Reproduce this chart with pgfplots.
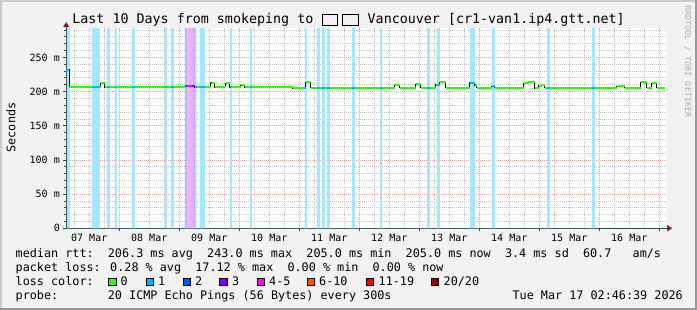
\documentclass[border=0pt]{standalone}
\usepackage{fontspec}
\setmainfont{DejaVu Sans Mono}
\usepackage{pgfplots}
\usepackage{pgfplotstable}
\pgfplotsset{compat=1.18}
\usetikzlibrary{arrows.meta}
\definecolor{bgc}{HTML}{F2F2F2}
\definecolor{shadea}{HTML}{CBCBCB}
\definecolor{shadeb}{HTML}{999999}
\definecolor{gridc}{HTML}{C4C4C4}
\definecolor{mgridc}{HTML}{E6A0A0}
\definecolor{axisc}{HTML}{2C4D43}
\definecolor{arrowc}{HTML}{7F1F1F}
\definecolor{l0}{HTML}{26FF00}
\definecolor{l1}{HTML}{00B8FF}
\definecolor{l2}{HTML}{0059FF}
\definecolor{l3}{HTML}{7E00FF}
\definecolor{l4}{HTML}{FF00FF}
\definecolor{l6}{HTML}{FF5500}
\definecolor{l11}{HTML}{FF0000}
\definecolor{l20}{HTML}{A10000}
\definecolor{b1}{RGB}{166,230,255}
\definecolor{b2}{RGB}{170,190,250}
\definecolor{b3}{RGB}{205,170,250}
\definecolor{b4}{RGB}{250,170,252}
\definecolor{wm}{RGB}{178,178,178}

% median rtt (hours since 07 Mar 00:00, ms) -- step values
\pgfplotstableread{
h v
2.78 232
4.08 206.5
16.68 212
18.28 206.5
50.28 208
54.28 206.5
60.68 213
62.28 206.5
66.68 212
68.28 206.5
72.68 209
74.28 206.5
93.36 205
98.68 214
100.68 205.5
134.28 209
136.28 205.5
142.68 211
144.68 205.5
150.68 210
152.28 214
154.68 205.5
164.28 213
166.28 209
167.08 205.5
173.08 208
174.28 205.5
185.88 212
187.48 214
189.08 213.5
190.28 205
191.88 208.5
193.08 209.5
194.28 205.5
223.08 207.5
226.28 205.5
232.68 213.5
235.08 205.5
237.08 212
239.08 205.5
242.28 205.5
}\median

% loss bands, loss 1 (top of band / 0)
\pgfplotstableread{
h v
3.05 293
4.28 0
13.08 293
16.28 0
19.08 293
20.28 0
22.28 293
23.08 0
29.08 293
30.28 0
42.28 293
43.08 0
44.68 293
45.88 0
54.28 293
54.96 0
56.28 293
58.28 0
68.28 293
69.08 0
76.28 293
77.08 0
98.28 293
99.08 0
103.08 293
104.28 0
105.08 293
106.28 0
107.08 293
108.28 0
117.08 293
118.28 0
128.28 293
129.08 0
147.08 293
148.28 0
151.08 293
152.28 0
164.28 293
166.28 0
173.08 293
174.28 0
195.08 293
196.28 0
213.08 293
214.28 0
}\lossone

\begin{document}
\begin{tikzpicture}
\fill[bgc] (0,0) rectangle (697bp,310bp);
\fill[shadea] (0,308bp) rectangle (697bp,310bp);
\fill[shadea] (0,0) rectangle (2bp,310bp);
\fill[shadeb] (0,0) rectangle (697bp,2bp);
\fill[shadeb] (695bp,0) rectangle (697bp,310bp);

\begin{axis}[
  at={(66.2bp,81.7bp)}, anchor=south west,
  scale only axis, width=600bp, height=200.3bp,
  xmin=2.78, xmax=242.78, ymin=0, ymax=293,
  axis lines=left,
  axis line style={draw=axisc, line width=1bp},
  x axis line style={-{Triangle[length=5bp,width=6bp,color=arrowc,fill=arrowc]}, shorten >=-6bp},
  y axis line style={-{Triangle[length=5bp,width=6bp,color=arrowc,fill=arrowc]}, shorten >=-6bp},
  axis background/.style={fill=white},
  xtick={24,48,...,240}, xticklabels={},
  extra x ticks={12,36,...,228},
  extra x tick labels={07 Mar,08 Mar,09 Mar,10 Mar,11 Mar,12 Mar,13 Mar,14 Mar,15 Mar,16 Mar},
  extra x tick style={grid=none, major tick length=0pt},
  minor xtick={6,12,18,30,36,42,54,60,66,78,84,90,102,108,114,126,132,138,150,156,162,174,180,186,198,204,210,222,228,234},
  ytick={0,50,...,250}, yticklabels={0,50 m,100 m,150 m,200 m,250 m},
  minor ytick={10,20,30,40,60,70,80,90,110,120,130,140,160,170,180,190,210,220,230,240,260,270,280,290},
  grid=both,
  major grid style={mgridc, line width=0.8bp, dash pattern=on 1bp off 1bp},
  minor grid style={gridc, line width=0.8bp, dash pattern=on 1bp off 1bp},
  tick align=outside,
  major tick length=3bp, minor tick length=2bp,
  tick style={axisc, line width=0.8bp},
  minor x tick style={draw=none},
  every tick label/.append style={font=\fontsize{10bp}{12bp}\selectfont},
  xticklabel style={anchor=base, inner sep=0pt, yshift=-13.1bp},
  yticklabel style={anchor=east, inner sep=0pt, xshift=-3.2bp},
  unbounded coords=jump,
]
\addplot[const plot mark left, fill=b1, draw=none] table[x=h,y=v] {\lossone} \closedcycle;
\addplot[const plot mark left, fill=b2, draw=none] coordinates {(50.28,293) (51.2,0)} \closedcycle;
\addplot[const plot mark left, fill=b4, draw=none] coordinates {(51.2,293) (53.2,0)} \closedcycle;
\addplot[const plot mark left, fill=b3, draw=none] coordinates {(53.2,293) (54.28,0)} \closedcycle;
\addplot[const plot mark left, black, line width=1bp] table[x=h,y=v] {\median};
\addplot[jump mark left, l0, line width=2bp] table[x=h,y=v] {\median};
\addplot[l1, line width=2bp] coordinates {
(2.78,232) (4.08,232) (4.08,nan)
(13.08,206.5) (16.28,206.5) (16.28,nan)
(19.08,206.5) (20.28,206.5) (20.28,nan)
(22.28,206.5) (23.08,206.5) (23.08,nan)
(29.08,206.5) (30.28,206.5) (30.28,nan)
(42.28,206.5) (43.08,206.5) (43.08,nan)
(44.68,206.5) (45.88,206.5) (45.88,nan)
(54.28,206.5) (54.96,206.5) (54.96,nan)
(56.28,206.5) (58.28,206.5) (58.28,nan)
(68.28,206.5) (69.08,206.5) (69.08,nan)
(76.28,206.5) (77.08,206.5) (77.08,nan)
(97.88,205) (98.68,205) (98.68,nan)
(103.08,205.5) (104.28,205.5) (104.28,nan)
(105.08,205.5) (106.28,205.5) (106.28,nan)
(107.08,205.5) (108.28,205.5) (108.28,nan)
(117.08,205.5) (118.28,205.5) (118.28,nan)
(128.28,205.5) (129.08,205.5) (129.08,nan)
(147.08,205.5) (148.28,205.5) (148.28,nan)
(151.08,210) (152.28,210) (152.28,nan)
(164.28,213) (166.28,213) (166.28,nan)
(173.08,208) (174.28,208) (174.28,nan)
(195.08,205.5) (196.28,205.5) (196.28,nan)
(213.08,205.5) (214.28,205.5)
};
\addplot[l2, line width=2bp] coordinates {(50.28,208) (51.2,208)};
\addplot[l4, line width=2bp] coordinates {(51.2,208) (53.2,208)};
\addplot[l3, line width=2bp] coordinates {(53.2,208) (54.28,208)};
\end{axis}

% title
\node[anchor=base west, inner sep=0pt, font=\fontsize{13.34bp}{16bp}\selectfont] at (72.2bp,286bp) {Last 10 Days from smokeping to};
\draw[black, line width=0.7bp] (322bp,284.5bp) rectangle (337.5bp,296bp);
\draw[black, line width=0.7bp] (342.5bp,284.5bp) rectangle (358bp,296bp);
\node[anchor=base west, inner sep=0pt, font=\fontsize{13.34bp}{16bp}\selectfont] at (367.5bp,286bp) {Vancouver [cr1-van1.ip4.gtt.net]};

% watermark
\node[rotate=-90, anchor=west, inner sep=0pt, text=wm, font=\fontsize{8.5bp}{10bp}\selectfont] at (688bp,305bp) {RRDTOOL / TOBI OETIKER};

% y label
\node[rotate=90, anchor=base, inner sep=0pt, font=\fontsize{11.78bp}{14bp}\selectfont] at (15.3bp,182.5bp) {Seconds};

% legend
\begin{scope}[every node/.style={anchor=base west, inner sep=0pt, font=\fontsize{11.78bp}{14bp}\selectfont}]
\node at (15.5bp,52.5bp) {median rtt:~~206.3 ms avg~~243.0 ms max~~205.0 ms min~~205.0 ms now~~3.4 ms sd~~60.7~~~am/s};
\node at (15.5bp,38.5bp) {packet loss: 0.28 \% avg~~17.12 \% max~~0.00 \% min~~0.00 \% now};
\node at (15.5bp,24.5bp) {loss color:};
\node at (15.5bp,10.5bp) {probe:~~~~~~~20 ICMP Echo Pings (56 Bytes) every 300s};
\node[anchor=base east] at (683bp,10.5bp) {Tue Mar 17 02:46:39 2026};
\foreach \bx/\col/\lab/\lx in {108.3/l0/0/120.5, 145.7/l1/1/158, 182.7/l2/2/195, 219.3/l3/3/232, 256.7/l4/4-5/269, 306.7/l6/6-10/319, 365.7/l11/11-19/378.5, 430.7/l20/20\slash 20/443.5}{
  \filldraw[fill=\col, draw=black, line width=0.9bp] (\bx bp+0.5bp,24.8bp) rectangle (\bx bp+7.7bp,32bp);
  \node at (\lx bp,24.5bp) {\lab};
}
\end{scope}
\end{tikzpicture}
\end{document}
